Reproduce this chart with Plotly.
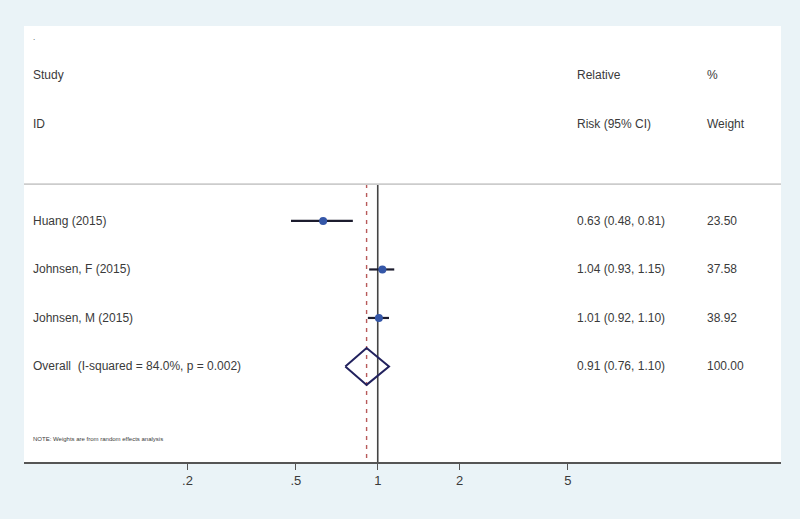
import plotly.graph_objects as go

# ---- data ----
studies = ["Huang (2015)", "Johnsen, F (2015)", "Johnsen, M (2015)"]
rr = [0.63, 1.04, 1.01]
ci_lo = [0.48, 0.93, 0.92]
ci_hi = [0.81, 1.15, 1.10]
weights = ["23.50", "37.58", "38.92"]
overall_label = "Overall  (I-squared = 84.0%, p = 0.002)"
overall_rr = 0.91
overall_lo = 0.76
overall_hi = 1.10
overall_weight = "100.00"
tick_vals = [0.2, 0.5, 1, 2, 5]
tick_text = [".2", ".5", "1", "2", "5"]

rows = [1, 2, 3]
overall_row = 4

TXT = "#3a3a3a"
FONT = "Liberation Sans, Arial, sans-serif"

fig = go.Figure()

# CI lines
cx, cy = [], []
for lo, hi, r in zip(ci_lo, ci_hi, rows):
    cx += [lo, hi, None]
    cy += [r, r, None]
fig.add_trace(go.Scatter(x=cx, y=cy, mode="lines",
                         line=dict(color="#1c1c2e", width=2.2),
                         hoverinfo="skip", showlegend=False))
# point estimates
fig.add_trace(go.Scatter(x=rr, y=rows, mode="markers",
                         marker=dict(color="#3557a8", size=8,
                                     line=dict(width=0)),
                         showlegend=False))
# overall diamond
h = 0.38
fig.add_trace(go.Scatter(
    x=[overall_lo, overall_rr, overall_hi, overall_rr, overall_lo],
    y=[overall_row, overall_row - h, overall_row, overall_row + h, overall_row],
    mode="lines", line=dict(color="#22225e", width=2),
    hoverinfo="skip", showlegend=False))

y_top = -3.02
y_bot = 5.97
sep_y = 0.24

# reference lines
fig.add_shape(type="line", xref="x", yref="y", x0=1, x1=1, y0=sep_y, y1=y_bot,
              line=dict(color="#444444", width=1.6), layer="below")
fig.add_shape(type="line", xref="x", yref="y", x0=overall_rr, x1=overall_rr,
              y0=sep_y, y1=y_bot,
              line=dict(color="#b85a5a", width=1.4, dash="4px,5px"), layer="below")
# separator under header
fig.add_shape(type="line", xref="paper", yref="y", x0=0, x1=1, y0=sep_y, y1=sep_y,
              line=dict(color="#cccccc", width=1.6))

def px(p):
    return (p - 24) / 757.0

def ann(text, xpix, yrow, size=12):
    fig.add_annotation(text=text, x=px(xpix), y=yrow, xref="paper", yref="y",
                       xanchor="left", yanchor="middle", showarrow=False,
                       font=dict(family=FONT, size=size, color=TXT))

ann(".", 31, -2.78, size=8)
ann("Study", 31, -2.0)
ann("ID", 31, -1.0)
ann("Relative", 575, -2.0)
ann("Risk (95% CI)", 575, -1.0)
ann("%", 705, -2.0)
ann("Weight", 705, -1.0)

for s, r, lo, hi, w, row in zip(studies, rr, ci_lo, ci_hi, weights, rows):
    ann(s, 31, row)
    ann(f"{r:.2f} ({lo:.2f}, {hi:.2f})", 575, row)
    ann(w, 705, row)

ann(overall_label, 31, overall_row)
ann(f"{overall_rr:.2f} ({overall_lo:.2f}, {overall_hi:.2f})", 575, overall_row)
ann(overall_weight, 705, overall_row)
ann("NOTE: Weights are from random effects analysis", 31, 5.49, size=6)

fig.update_xaxes(type="log", range=[-1.30, 1.482],
                 tickvals=tick_vals, ticktext=tick_text,
                 ticks="outside", ticklen=6, tickwidth=1.4, tickcolor="#555555",
                 showline=True, linecolor="#555555", linewidth=1.6,
                 showgrid=False, zeroline=False,
                 tickfont=dict(family=FONT, size=13, color=TXT))
fig.update_yaxes(range=[y_bot, y_top], showgrid=False, zeroline=False,
                 showticklabels=False, showline=False)

fig.update_layout(width=800, height=519,
                  margin=dict(l=24, r=19, t=26, b=57),
                  paper_bgcolor="#eaf3f7", plot_bgcolor="#ffffff",
                  showlegend=False)

fig.write_html("out.html", config={"displayModeBar": False},
               post_script="document.body.style.margin='0';document.body.style.overflow='hidden';")
